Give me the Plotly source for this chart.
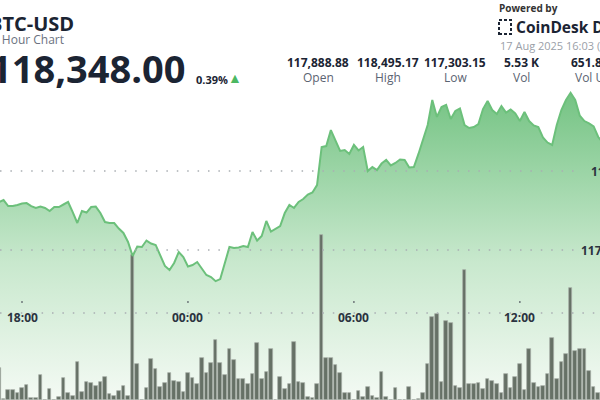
import pandas as pd
import plotly.graph_objects as go

# ---- data (10-minute samples, starting 2025-08-16 17:10) ----
start_time = "2025-08-16 17:10"
prices = [
    117804, 117816, 117778, 117778, 117785, 117794, 117797, 117778, 117766, 117775,
    117766, 117747, 117772, 117772, 117788, 117804, 117740, 117671, 117747, 117737,
    117772, 117775, 117734, 117677, 117671, 117671, 117636, 117608, 117551, 117462,
    117522, 117519, 117560, 117541, 117532, 117468, 117399, 117373, 117418, 117487,
    117456, 117396, 117405, 117424, 117386, 117342, 117329, 117303, 117316, 117424,
    117519, 117513, 117516, 117525, 117519, 117614, 117560, 117589, 117684, 117617,
    117633, 117652, 117734, 117785, 117766, 117804, 117823, 117851, 117864, 117911,
    118152, 118158, 118259, 118196, 118127, 118133, 118108, 118165, 118130, 118152,
    118000, 118025, 118006, 118047, 118070, 118035, 118051, 118073, 118070, 118022,
    118025, 118108, 118196, 118291, 118449, 118342, 118405, 118418, 118329, 118380,
    118396, 118291, 118272, 118278, 118297, 118392, 118443, 118386, 118361, 118411,
    118370, 118389, 118364, 118316, 118373, 118316, 118288, 118278, 118213, 118180,
    118165, 118291, 118386, 118449, 118495, 118449, 118350, 118316, 118301, 118282,
    118215, 118180,
]
volumes = [
    80, 2, 25, 25, 17.5, 30, 37.5, 5, 5, 62.5,
    1, 27.5, 1, 7.5, 55, 17.5, 10, 95, 20, 45,
    42.5, 35, 45, 57.5, 15, 10, 22.5, 35, 10, 362.5,
    90, 1, 30, 102.5, 77.5, 32.5, 42.5, 67.5, 47.5, 45,
    20, 67.5, 55, 40, 105, 67.5, 92.5, 150, 92.5, 62.5,
    127.5, 100, 52.5, 52.5, 40, 65, 142.5, 52.5, 70, 127.5,
    1, 57.5, 27.5, 40, 145, 45, 42.5, 7.5, 5, 40,
    412.5, 105, 105, 87.5, 67.5, 17.5, 17.5, 1, 22.5, 7.5,
    32.5, 10, 5, 70, 7.5, 1, 30, 1, 1, 32.5,
    1, 2.5, 17.5, 90, 207.5, 215, 45, 197.5, 192.5, 35,
    30, 325, 40, 40, 42.5, 27.5, 52.5, 47.5, 40, 17.5,
    65, 30, 57.5, 90, 25, 127.5, 42.5, 32.5, 35, 65,
    155, 52.5, 95, 115, 280, 122.5, 127.5, 127.5, 72.5, 32.5,
    17.5, 20,
]
tick_times = ["2025-08-16 18:00", "2025-08-17 00:00", "2025-08-17 06:00",
              "2025-08-17 12:00", "2025-08-17 18:00"]
tick_labels = ["18:00", "00:00", "06:00", "12:00", "18:00"]
price_grid = [118000, 117500]
price_grid_labels = ["118K", "117.5K"]

stat_values = ["117,888.88", "118,495.17", "117,303.15", "5.53 K", "651.84 M"]
stat_names = ["Open", "High", "Low", "Vol", "Vol USD"]

times = pd.date_range(start_time, periods=len(prices), freq="10min")

W, H = 600, 400
x_range = ["2025-08-16 17:12:17", "2025-08-17 14:53:48"]
y_range = [116551, 119082]
v_range = [0, 1000]


def px(x):
    return x / W


def py(y):
    return 1 - y / H


fig = go.Figure()

# area fill
fig.add_trace(go.Scatter(
    x=times, y=prices, mode="lines", line=dict(width=0, color="rgba(0,0,0,0)"),
    fill="tozeroy",
    fillgradient=dict(type="vertical", start=116551, stop=118500,
                      colorscale=[[0, "#f4faf4"], [0.45, "#c8e8cd"], [1, "#74c383"]]),
    hoverinfo="skip", showlegend=False, yaxis="y"))

# volume bars
fig.add_trace(go.Bar(
    x=times, y=volumes, width=470000,
    marker=dict(color="#667166", line=dict(color="#a7afa7", width=0.7)),
    showlegend=False, yaxis="y2"))

# price line
fig.add_trace(go.Scatter(
    x=times, y=prices, mode="lines", line=dict(width=2, color="#6cc07b"),
    showlegend=False, yaxis="y3"))

shapes = []
# dotted price grid lines
for p in price_grid:
    shapes.append(dict(type="line", xref="paper", yref="y", x0=0, x1=px(577), y0=p, y1=p,
                       line=dict(color="#a9aeb3", width=1.5, dash="1.5px,8.9px")))
# dotted time axis line
shapes.append(dict(type="line", xref="paper", yref="paper", x0=0, x1=1, y0=py(313), y1=py(313),
                   line=dict(color="#a9aeb3", width=1.5, dash="1.5px,8.9px")))
# tick dots
for t in tick_times:
    shapes.append(dict(type="line", xref="x", yref="paper", x0=t, x1=t, y0=py(301), y1=py(303),
                       line=dict(color="#555b63", width=1.2)))

annotations = []


def txt(text, x, y, size, color="#1b2433", bold=False, xanchor="left", yanchor="middle", **kw):
    annotations.append(dict(
        text=f"<b>{text}</b>" if bold else text, x=px(x), y=py(y), xref="paper", yref="paper",
        xanchor=xanchor, yanchor=yanchor, showarrow=False,
        font=dict(size=size, color=color, family="Open Sans"), **kw))


# time labels
for t, lab in zip(tick_times, tick_labels):
    annotations.append(dict(text=f"<b>{lab}</b>", x=t, y=py(317), xref="x", yref="paper",
                            xanchor="center", yanchor="middle", showarrow=False,
                            font=dict(size=12, color="#2b3340", family="Open Sans")))
# price labels
for p, lab in zip(price_grid, price_grid_labels):
    annotations.append(dict(text=f"<b>{lab}</b>", x=px(622), y=p, xref="paper", yref="y",
                            xanchor="right", yanchor="middle", showarrow=False,
                            font=dict(size=12, color="#2b3340", family="Open Sans")))

# header
txt("BTC-USD", -13, 23, 20, bold=True)
txt("24 Hour Chart", -17, 39, 12, color="#6b7280")
txt("118,348.00", -12, 68, 38, bold=True)
txt("0.39%", 194, 79, 11, bold=True)
txt("▲", 226, 77, 14, color="#4cb862")

centers = [318, 388, 455, 521, 597]
for c, v, n in zip(centers, stat_values, stat_names):
    txt(v, c, 62, 12, bold=True, xanchor="center")
    txt(n, c, 77, 12, color="#5b6472", xanchor="center")

txt("Powered by", 497, 8, 10, color="#333", bold=True)
txt("CoinDesk Data", 514, 27, 15.5, bold=True)
txt("17 Aug 2025 16:03 (GMT)", 498, 45, 11, color="#9aa0a8")

# logo outline
shapes.append(dict(type="rect", xref="paper", yref="paper", x0=px(499), x1=px(511),
                   y0=py(34), y1=py(20), line=dict(color="#1b2433", width=2, dash="3px,2px")))

fig.update_layout(
    width=W, height=H, margin=dict(l=0, r=0, t=0, b=0),
    paper_bgcolor="white", plot_bgcolor="white",
    xaxis=dict(type="date", range=x_range, visible=False, showgrid=False),
    yaxis=dict(range=y_range, visible=False, showgrid=False),
    yaxis2=dict(range=v_range, visible=False, overlaying="y", showgrid=False),
    yaxis3=dict(range=y_range, visible=False, overlaying="y", showgrid=False),
    bargap=0, shapes=shapes, annotations=annotations, showlegend=False,
)

fig.write_html(
    "out.html",
    config={"displayModeBar": False},
    post_script="document.body.style.margin='0';document.body.style.overflow='hidden';",
)
